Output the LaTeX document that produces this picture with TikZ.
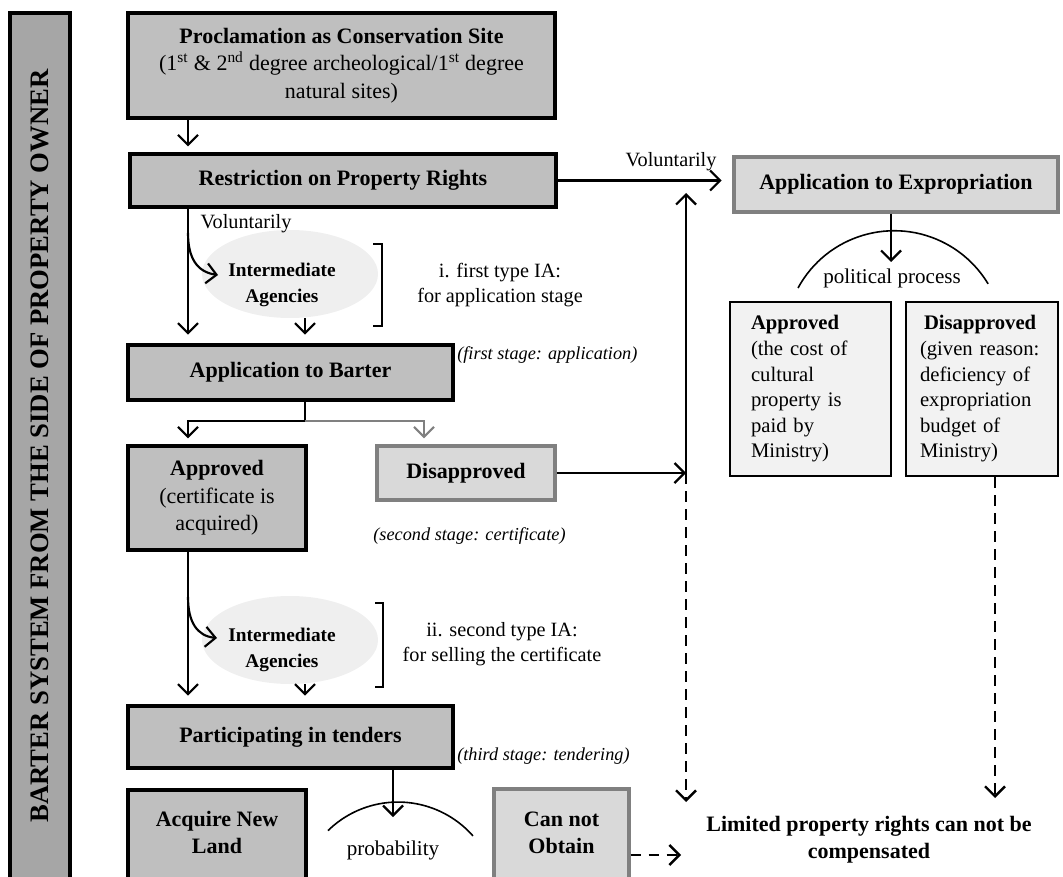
\documentclass[tikz,border=0pt]{standalone}
\usepackage{fontspec}
\setmainfont{Liberation Serif}
\usetikzlibrary{arrows.meta,shapes.geometric,calc}
\definecolor{boxgray}{HTML}{BFBFBF}
\definecolor{bargray}{HTML}{A6A6A6}
\definecolor{lgray}{HTML}{D9D9D9}
\definecolor{egray}{HTML}{808080}
\definecolor{pgray}{HTML}{F2F2F2}
\definecolor{elgray}{HTML}{EFEFEF}
\newcommand\myfA{\fontsize{16.5}{20.5}\selectfont}
\newcommand\myfB{\fontsize{14.5}{19.5}\selectfont}
\newcommand\myfC{\fontsize{15.2}{18.8}\selectfont}
\newcommand\myfD{\fontsize{13.7}{17}\selectfont}
\newcommand\myfE{\fontsize{15.5}{19.2}\selectfont}
\newcommand\myfP{\fontsize{15.8}{19}\selectfont}
\newcommand\myfBar{\fontsize{20}{24}\selectfont}
\begin{document}
\begin{tikzpicture}[x=0.75pt,y=-0.75pt,
 sz/.style 2 args={minimum width=#1*0.75pt,minimum height=#2*0.75pt},
 mainbox/.style={draw=black,line width=2.5pt,fill=boxgray,inner sep=0pt,align=center,font=\myfA},
 greybox/.style={draw=egray,line width=2.5pt,fill=lgray,inner sep=0pt,align=center,font=\myfA},
 palebox/.style={draw=black,line width=1.7pt,fill=pgray,inner ysep=0pt,align=left,font=\myfE,minimum height=130.5pt},
 agency/.style={ellipse,fill=elgray,inner sep=0pt},
 agtext/.style={font=\myfB\bfseries,align=center,inner sep=0pt},
 notetext/.style={font=\myfC,align=center,inner sep=0pt},
 stagetext/.style={font=\myfD\itshape,inner sep=0pt},
 boldtext/.style={font=\myfA\bfseries,align=center,inner sep=0pt},
 conn/.style={line width=1.6pt},
 arr/.style={line width=1.6pt,-{Straight Barb[length=7.5pt,width=15pt]}},
 arcline/.style={line width=1.2pt},
 dashline/.style={line width=1.8pt,dash pattern=on 8pt off 5.5pt},
]
\path[use as bounding box] (0,0) rectangle (1063,877);
\clip (0,0) rectangle (1063,877);

% left banner
\node[draw=black,line width=2.5pt,fill=bargray,rotate=90,sz={866}{60},inner sep=0pt,font=\myfBar\bfseries] (bar) at (40,446) {BARTER SYSTEM FROM THE SIDE OF PROPERTY OWNER};

% main column
\node[mainbox,sz={427}{105}] (proc) at (341.5,65.5) {\textbf{Proclamation as Conservation Site}\\(1\textsuperscript{st} \& 2\textsuperscript{nd} degree archeological/1\textsuperscript{st} degree\\natural sites)};
\node[mainbox,sz={426}{53}] (restr) at (343,180.5) {\textbf{Restriction on Property Rights}};
\node[agency,sz={176}{88}] (ia1) at (290,274) {};
\node[agtext] (ia1t) at (282,285) {Intermediate\\Agencies};
\node[notetext] (n1) at (500,285) {i. first type IA:\\for application stage};
\node[mainbox,sz={325}{55}] (barter) at (290.5,372.5) {\textbf{Application to Barter}};
\node[stagetext,anchor=west] (s1) at (457,355) {(first stage: application)};
\node[mainbox,sz={178}{104}] (appr) at (217,498) {\textbf{Approved}\\(certificate is\\acquired)};
\node[greybox,sz={178}{54}] (disap) at (466,473) {\textbf{Disapproved}};
\node[stagetext] (s2) at (469.5,536) {(second stage: certificate)};
\node[agency,sz={176}{88}] (ia2) at (290,640) {};
\node[agtext] (ia2t) at (282,650) {Intermediate\\Agencies};
\node[notetext] (n2) at (502,644.5) {ii. second type IA:\\for selling the certificate};
\node[mainbox,sz={325}{62}] (tend) at (290.5,737) {\textbf{Participating in tenders}};
\node[stagetext,anchor=west] (s3) at (457,756) {(third stage: tendering)};
\node[mainbox,sz={178}{92}] (acq) at (217,836) {};
\node[boldtext] (acqt) at (217,832.5) {Acquire New\\Land};
\node[greybox,sz={135}{92}] (cno) at (561.5,835) {};
\node[boldtext] (cnot) at (561.5,833) {Can not\\Obtain};
\node[font=\myfP,inner sep=0pt] (prob) at (393,850) {probability};

% right column
\node[greybox,sz={324}{55}] (expr) at (896,184.5) {\textbf{Application to Expropriation}};
\node[font=\myfP,inner sep=0pt] (pol) at (892,278) {political process};
\node[palebox,text width=89.25pt,inner xsep=15.75pt] (rappr) at (810.5,389) {\textbf{Approved}\\(the cost of\\cultural\\property is\\paid by\\Ministry)};
\node[palebox,text width=93pt,inner xsep=10.5pt] (rdisap) at (982,389) {\hspace*{3pt}\textbf{Disapproved}\\(given reason:\\deficiency of\\expropriation\\budget of\\Ministry)};
\node[boldtext] (lim) at (869,840) {Limited property rights can not be\\compensated};

% labels
\node[font=\myfC,inner sep=0pt] (v1) at (246,224) {Voluntarily};
\node[font=\myfC,inner sep=0pt] (v2) at (671,162) {Voluntarily};

% helper coordinates
\coordinate (L) at (188,0);
\coordinate (R) at (305,0);
\coordinate (D) at (424,0);
\coordinate (V) at (686,0);
\coordinate (P) at (891,0);
\coordinate (Q) at (393,0);
\coordinate (W) at (995,0);
\coordinate (sp) at (305,421);
\coordinate (vtop) at (686,193);
\coordinate (vbot) at (686,802);
\coordinate (ptip) at (891,262);
\coordinate (qtip) at (393,817);
\coordinate (wtip) at (995,798);
\coordinate (dtip) at (681,855);
\coordinate (c1s) at (188,233);
\coordinate (c2s) at (188,597);

% connectors, left column
\draw[arr,shorten >=4.5pt] (proc.south -| L) -- (restr.north -| L);
\draw[arr,shorten >=6.5pt] (restr.south -| L) -- (barter.north -| L);
\draw[arr] (c1s) .. controls (188,258) and (197,272) .. (218,275);
\draw[arr,shorten >=6.5pt] (ia1.south -| R) -- (barter.north -| R);
\draw[arcline] (373,244) -- (382,244) -- (382,326) -- (373,326);
\draw[conn] (barter.south -| R) -- (sp);
\draw[arr,shorten >=4.5pt] (sp) -| (appr.north -| L);
\draw[arr,draw=egray,shorten >=4.5pt] (sp) -| (disap.north -| D);
\draw[arr,shorten >=6.5pt] (appr.south -| L) -- (tend.north -| L);
\draw[arr] (c2s) .. controls (188,622) and (197,636) .. (217,638);
\draw[arr,shorten >=6.5pt] (ia2.south -| R) -- (tend.north -| R);
\draw[arcline] (375,603) -- (383,603) -- (383,687) -- (375,687);
\draw[arr] (tend.south -| Q) -- (qtip);
\draw[arcline] (328,830.6) arc[start angle=-134.4,end angle=-41.4,radius=100];
\draw[arr,dashline] (cno.east |- dtip) -- (dtip);

% connectors, middle and right
\draw[arr] (disap.east) -- (disap.east -| V);
\draw[arr] (disap.east -| V) -- (vtop);
\draw[arr,dashline] (disap.east -| V) -- (vbot);
\draw[arr,shorten >=8pt] (restr.east) -- (restr.east -| expr.west);
\draw[arr] (expr.south -| P) -- (ptip);
\draw[arcline] (798,288) arc[start angle=-151.5,end angle=-31,radius=109.5];
\draw[arr,dashline] (rdisap.south -| W) -- (wtip);
\end{tikzpicture}
\end{document}
